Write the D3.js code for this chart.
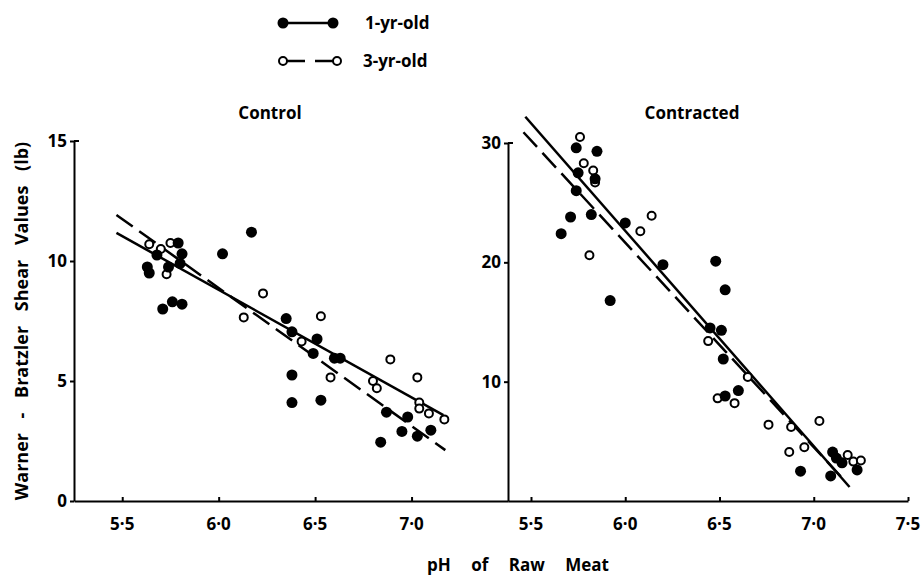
<!DOCTYPE html>
<html>
<head>
<meta charset="utf-8">
<script src="https://cdn.jsdelivr.net/npm/d3@7"></script>
<style>
  body { margin: 0; background: #fff; }
  svg text { font-family: "Open Sans", "DejaVu Sans", sans-serif; font-weight: 700; fill: #000; }
  .axis path, .axis line { stroke: #000; stroke-width: 2; }
</style>
</head>
<body>
<div id="chart"></div>
<script>
// Control panel (shear in lb, pH)
const controlYoungPH  = [5.63, 5.64, 5.68, 5.71, 5.74, 5.76, 5.79, 5.80, 5.81, 5.81, 6.02, 6.17, 6.35, 6.38, 6.51, 6.49, 6.60, 6.63, 6.38, 6.38, 6.53, 6.87, 6.98, 6.95, 7.03, 7.10, 6.84]
const controlYoungVal = [9.75, 9.5, 10.25, 8.0, 9.75, 8.3, 10.75, 9.9, 8.2, 10.3, 10.3, 11.2, 7.6, 7.05, 6.75, 6.15, 5.95, 5.95, 5.25, 4.1, 4.2, 3.7, 3.5, 2.9, 2.7, 2.95, 2.45]
const controlOldPH    = [5.64, 5.70, 5.73, 5.75, 6.13, 6.23, 6.43, 6.53, 6.58, 6.80, 6.82, 6.89, 7.03, 7.04, 7.04, 7.09, 7.17]
const controlOldVal   = [10.7, 10.5, 9.45, 10.75, 7.65, 8.65, 6.65, 7.7, 5.15, 5.0, 4.7, 5.9, 5.15, 4.1, 3.85, 3.65, 3.4]

// Contracted panel
const contrYoungPH  = [5.66, 5.71, 5.74, 5.74, 5.75, 5.85, 5.82, 5.84, 5.92, 6.00, 6.20, 6.48, 6.53, 6.45, 6.51, 6.52, 6.60, 6.53, 6.93, 7.09, 7.10, 7.12, 7.23, 7.15]
const contrYoungVal = [22.4, 23.8, 26.0, 29.6, 27.5, 29.3, 24.0, 27.0, 16.8, 23.3, 19.8, 20.1, 17.7, 14.5, 14.3, 11.9, 9.25, 8.8, 2.5, 2.1, 4.1, 3.6, 2.6, 3.2]
const contrOldPH    = [5.76, 5.78, 5.81, 5.83, 5.84, 6.08, 6.14, 6.44, 6.49, 6.58, 6.65, 6.76, 6.88, 7.03, 6.87, 6.95, 7.18, 7.21, 7.25]
const contrOldVal   = [30.5, 28.3, 20.6, 27.7, 26.7, 22.6, 23.9, 13.4, 8.6, 8.2, 10.4, 6.4, 6.2, 6.7, 4.1, 4.5, 3.85, 3.3, 3.4]

// fitted lines: [start pH, start value, end pH, end value]
const controlYoungFit = [5.47, 11.17, 7.165, 3.58]
const controlOldFit   = [5.47, 11.92, 7.175, 2.12]
const contrYoungFit   = [5.47, 32.2, 7.19, 1.17]
const contrOldFit     = [5.46, 30.9, 7.17, 1.6]

const controlXTicks = [5.5, 6.0, 6.5, 7.0]
const contrXTicks   = [5.5, 6.0, 6.5, 7.0, 7.5]
const controlYTicks = [0, 5, 10, 15]
const contrYTicks   = [10, 20, 30]

const seriesNames = ['1-yr-old', '3-yr-old']
const panelTitles = ['Control', 'Contracted']

const WIDTH = 923, HEIGHT = 577
const BASE = 501

const svg = d3.select('#chart').append('svg')
  .attr('width', WIDTH).attr('height', HEIGHT)

const fmt = d => d3.format('.1f')(d).replace('.', '·')

const panels = [
  { title: panelTitles[0], x: d3.scaleLinear().domain([5.25, 7.5]).range([74, 508]),
    y: d3.scaleLinear().domain([0, 15]).range([BASE, 141]),
    xt: controlXTicks, yt: controlYTicks, tx: 270, yMax: 15,
    young: [controlYoungPH, controlYoungVal], old: [controlOldPH, controlOldVal],
    fits: [controlYoungFit, controlOldFit] },
  { title: panelTitles[1], x: d3.scaleLinear().domain([5.378, 7.5]).range([508, 908]),
    y: d3.scaleLinear().domain([0, 30]).range([BASE, 143]),
    xt: contrXTicks, yt: contrYTicks, tx: 692, yMax: 30,
    young: [contrYoungPH, contrYoungVal], old: [contrOldPH, contrOldVal],
    fits: [contrYoungFit, contrOldFit] }
]

panels.forEach(p => {
  // x axis
  svg.append('g').attr('class', 'axis')
    .attr('transform', `translate(0, ${BASE})`)
    .call(d3.axisTop(p.x).tickValues(p.xt).tickSize(4).tickSizeOuter(0).tickFormat(''))
  svg.append('g').selectAll('text').data(p.xt).enter().append('text')
    .attr('x', d => p.x(d)).attr('y', 530)
    .attr('text-anchor', 'middle').attr('font-size', '17px')
    .text(fmt)

  // y axis
  svg.append('g').attr('class', 'axis')
    .attr('transform', `translate(${p.x.range()[0]}, 0)`)
    .call(d3.axisLeft(p.y).tickValues(p.yt).tickSize(4).tickSizeOuter(0).tickFormat(''))
  svg.append('line')
    .attr('x1', p.x.range()[0]).attr('x2', p.x.range()[0] + 5)
    .attr('y1', p.y(p.yMax)).attr('y2', p.y(p.yMax))
    .attr('stroke', '#000').attr('stroke-width', 2)
  svg.append('g').selectAll('text').data(p.yt).enter().append('text')
    .attr('x', p.x.range()[0] - 7).attr('y', d => p.y(d) + 6)
    .attr('text-anchor', 'end').attr('font-size', '17px')
    .text(d => d)

  svg.append('text')
    .attr('x', p.tx).attr('y', 119)
    .attr('text-anchor', 'middle').attr('font-size', '17px')
    .text(p.title)

  // fitted lines
  p.fits.forEach((f, i) => {
    svg.append('line')
      .attr('x1', p.x(f[0])).attr('y1', p.y(f[1]))
      .attr('x2', p.x(f[2])).attr('y2', p.y(f[3]))
      .attr('stroke', '#000').attr('stroke-width', 2.5)
      .attr('stroke-dasharray', i === 1 ? '20,8' : null)
  })

  // points
  const old = d3.zip(p.old[0], p.old[1])
  svg.append('g').selectAll('circle').data(old).enter().append('circle')
    .attr('cx', d => p.x(d[0])).attr('cy', d => p.y(d[1]))
    .attr('r', 4).attr('fill', '#fff').attr('stroke', '#000').attr('stroke-width', 2)
  const young = d3.zip(p.young[0], p.young[1])
  svg.append('g').selectAll('circle').data(young).enter().append('circle')
    .attr('cx', d => p.x(d[0])).attr('cy', d => p.y(d[1]))
    .attr('r', 5.5).attr('fill', '#000')
})

// axis titles
svg.append('text')
  .attr('transform', 'translate(28, 321) rotate(-90)')
  .attr('text-anchor', 'middle').attr('font-size', '18px')
  .attr('word-spacing', '10px')
  .text('Warner - Bratzler Shear Values (lb)')

svg.append('text')
  .attr('x', 518).attr('y', 571)
  .attr('text-anchor', 'middle').attr('font-size', '17px')
  .attr('word-spacing', '16px')
  .text('pH of Raw Meat')

// legend
const legend = svg.append('g')
legend.append('line').attr('x1', 283).attr('x2', 333).attr('y1', 23).attr('y2', 23)
  .attr('stroke', '#000').attr('stroke-width', 2.5)
legend.selectAll('.lf').data([283, 333]).enter().append('circle')
  .attr('cx', d => d).attr('cy', 23).attr('r', 5.5).attr('fill', '#000')
legend.append('line').attr('x1', 287).attr('x2', 333).attr('y1', 61).attr('y2', 61)
  .attr('stroke', '#000').attr('stroke-width', 2.5).attr('stroke-dasharray', '18,10')
legend.selectAll('.lo').data([283, 337]).enter().append('circle')
  .attr('cx', d => d).attr('cy', 61).attr('r', 4).attr('fill', '#fff')
  .attr('stroke', '#000').attr('stroke-width', 2)
legend.selectAll('text').data(seriesNames).enter().append('text')
  .attr('x', (d, i) => i === 0 ? 365 : 363).attr('y', (d, i) => i === 0 ? 29 : 67)
  .attr('font-size', '17px')
  .text(d => d)
</script>
</body>
</html>
